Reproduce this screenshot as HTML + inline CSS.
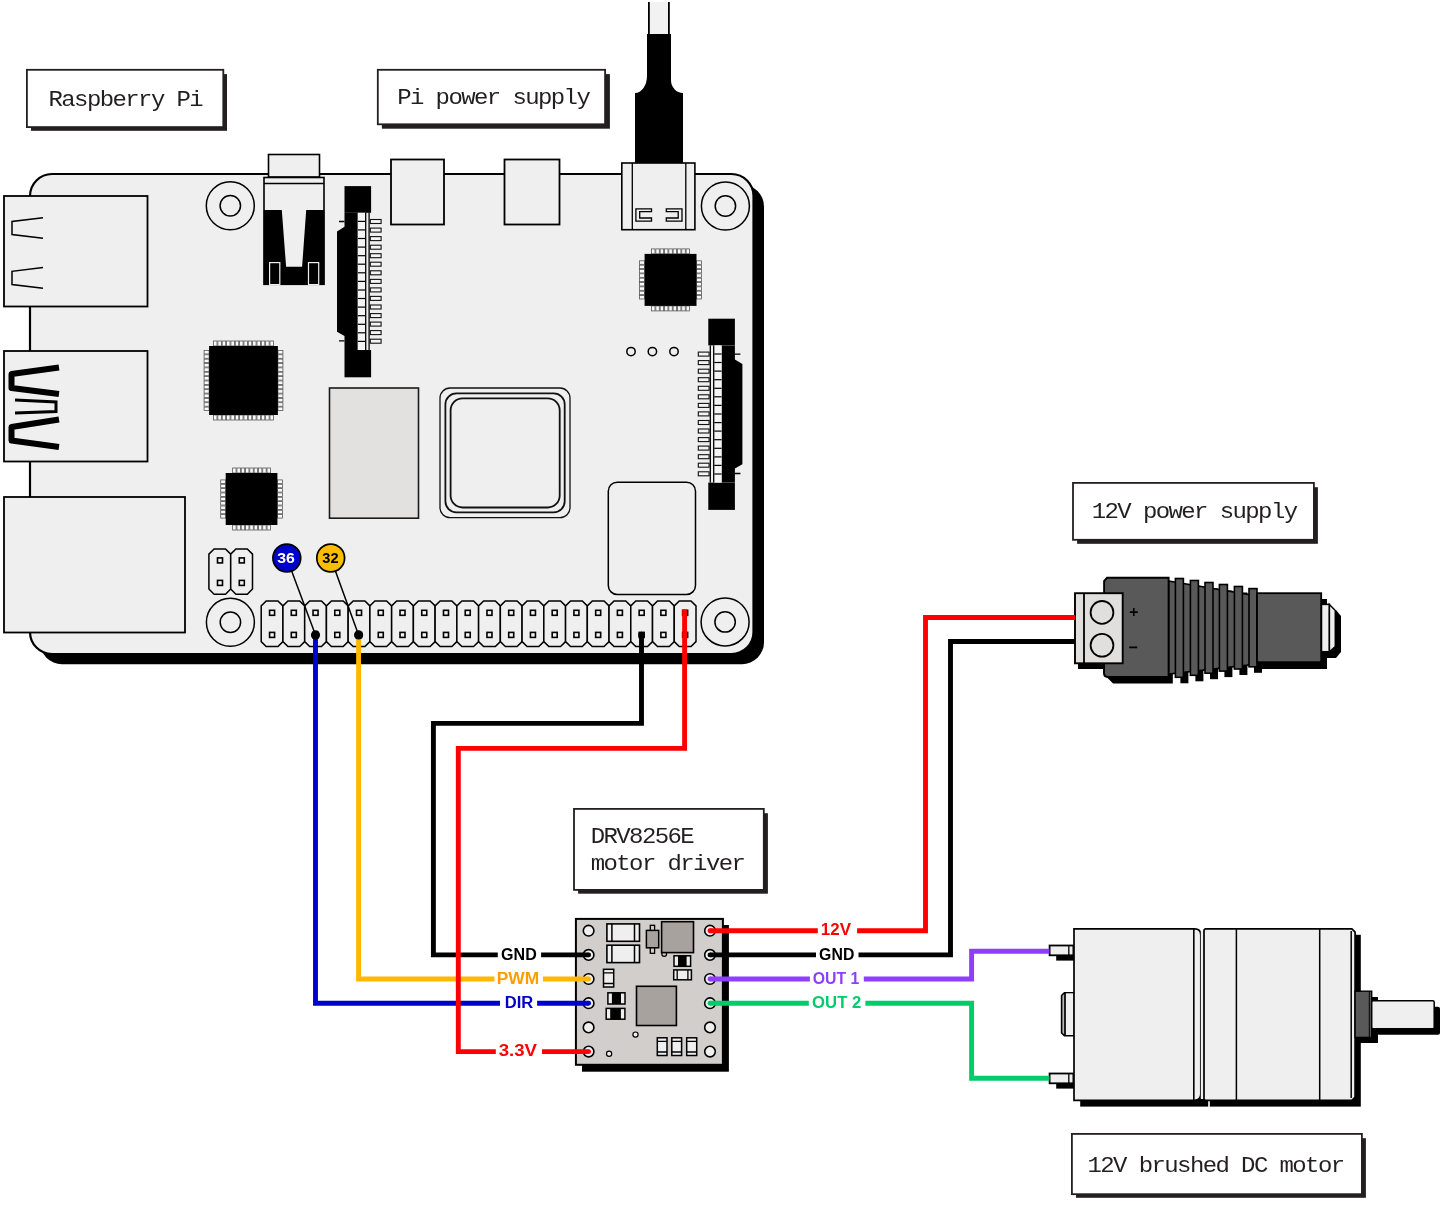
<!DOCTYPE html>
<html><head><meta charset="utf-8"><title>Raspberry Pi DRV8256E wiring</title>
<style>
html,body{margin:0;padding:0;background:#fff;width:1447px;height:1206px;overflow:hidden}
svg{display:block;will-change:transform}
.lbl{font-family:"Liberation Mono",monospace;font-size:24px;letter-spacing:-1.6px;fill:#231f20}
.wl{font-family:"Liberation Sans",sans-serif;font-weight:bold;font-size:16.213139401064353px}
.bd{font-family:"Liberation Sans",sans-serif;font-weight:bold;font-size:14px}
</style></head><body>
<svg width="1447" height="1206" viewBox="0 0 1447 1206">
<rect x="31" y="74.10000000000001" width="196.00" height="56.70" fill="#231f20"/>
<rect x="26.90" y="69.80" width="196.40" height="57.30" fill="#fff" stroke="#231f20" stroke-width="1.8"/>
<text transform="translate(48.5,105.7) scale(1,0.885)" class="lbl">Raspberry Pi</text>
<rect x="381.9" y="74.10000000000001" width="228.00" height="54.60" fill="#231f20"/>
<rect x="377.80" y="69.80" width="227.30" height="54.50" fill="#fff" stroke="#231f20" stroke-width="1.8"/>
<text transform="translate(397.2,103.7) scale(1,0.885)" class="lbl">Pi power supply</text>
<rect x="1077.1" y="487.2" width="240.80" height="56.60" fill="#231f20"/>
<rect x="1073.00" y="482.90" width="240.90" height="56.90" fill="#fff" stroke="#231f20" stroke-width="1.8"/>
<text transform="translate(1091.7,517.7) scale(1,0.885)" class="lbl">12V power supply</text>
<rect x="578.1" y="813.2" width="189.80" height="80.50" fill="#231f20"/>
<rect x="574.00" y="808.90" width="189.80" height="81.00" fill="#fff" stroke="#231f20" stroke-width="1.8"/>
<text transform="translate(590.7,842.8) scale(1,0.885)" class="lbl">DRV8256E</text>
<text transform="translate(590.7,869.7) scale(1,0.885)" class="lbl">motor driver</text>
<rect x="1076" y="1138.2" width="289.90" height="59.60" fill="#231f20"/>
<rect x="1071.90" y="1133.90" width="290.00" height="60.30" fill="#fff" stroke="#231f20" stroke-width="1.8"/>
<text transform="translate(1087.5,1172) scale(1,0.885)" class="lbl">12V brushed DC motor</text>
<rect x="648.5" y="2" width="20.5" height="34" fill="#f2f2f2"/>
<path d="M648.9,2 V36 M668.9,2 V36" stroke="#000" stroke-width="1.8"/>
<path d="M647,34 H671 V80 A12,13 0 0 0 683,93 V163 H635 V93 A12,17 0 0 0 647,76 Z" fill="#000"/>
<path d="M62,184.5 H742 A22,22 0 0 1 764,206.5 V642.2 A22,22 0 0 1 742,664.2 H62 A22,22 0 0 1 40,642.2 V206.5 A22,22 0 0 1 62,184.5 Z" fill="#000"/>
<path d="M52,174 H731.5 A22,22 0 0 1 753.5,196 V632 A22,22 0 0 1 731.5,654 H52 A22,22 0 0 1 30,632 V196 A22,22 0 0 1 52,174 Z" fill="#efefef" stroke="#000" stroke-width="2.2"/>
<rect x="4" y="196" width="143.5" height="110.5" fill="#efefef" stroke="#000" stroke-width="1.8"/>
<path d="M43,217.7 L12,221.5 V234.5 L43,238.3 M43,267.5 L12,271.3 V284.5 L43,288.3" fill="none" stroke="#000" stroke-width="1.5"/>
<rect x="4" y="351" width="143.5" height="110.5" fill="#efefef" stroke="#000" stroke-width="1.8"/>
<path d="M59,367.5 L11.5,374 V388 L59,394" fill="none" stroke="#000" stroke-width="6" stroke-linejoin="round"/>
<path d="M15,400 L56,402 V411.5 L15,413" fill="none" stroke="#000" stroke-width="3"/>
<path d="M59,419.5 L11.5,427 V440.5 L59,447" fill="none" stroke="#000" stroke-width="6" stroke-linejoin="round"/>
<rect x="4" y="497" width="181" height="135.5" fill="#efefef" stroke="#000" stroke-width="1.8"/>
<circle cx="230.3" cy="205.7" r="24" fill="none" stroke="#000" stroke-width="1.5"/>
<circle cx="230.3" cy="205.7" r="10.2" fill="none" stroke="#000" stroke-width="1.5"/>
<circle cx="725.4" cy="206" r="24" fill="none" stroke="#000" stroke-width="1.5"/>
<circle cx="725.4" cy="206" r="10.2" fill="none" stroke="#000" stroke-width="1.5"/>
<circle cx="230.4" cy="622.2" r="24" fill="none" stroke="#000" stroke-width="1.5"/>
<circle cx="230.4" cy="622.2" r="10.2" fill="none" stroke="#000" stroke-width="1.5"/>
<circle cx="725.1" cy="621.9" r="24" fill="none" stroke="#000" stroke-width="1.5"/>
<circle cx="725.1" cy="621.9" r="10.2" fill="none" stroke="#000" stroke-width="1.5"/>
<rect x="391" y="159.5" width="53" height="65" fill="#efefef" stroke="#000" stroke-width="1.8"/>
<rect x="504.5" y="159.5" width="55" height="65" fill="#efefef" stroke="#000" stroke-width="1.8"/>
<rect x="621.8" y="163" width="73.1" height="66.7" fill="#efefef" stroke="#000" stroke-width="1.6"/>
<path d="M632.3,163 V229.7 M685.8,163 V229.7" stroke="#000" stroke-width="1.3"/>
<path d="M651.5,208.8 H635.9 V221.2 H651.5 V218 H639.7 V211.6 H651.5 Z" fill="none" stroke="#000" stroke-width="1.3"/>
<path d="M666.3,208.8 H682 V221.2 H666.3 V218 H678.2 V211.6 H666.3 Z" fill="none" stroke="#000" stroke-width="1.3"/>
<rect x="268.5" y="154.5" width="51" height="22.5" fill="#efefef" stroke="#000" stroke-width="1.6"/>
<rect x="264" y="177.5" width="60" height="106.8" fill="#efefef" stroke="#000" stroke-width="1.6"/>
<path d="M264,183.5 H324" stroke="#000" stroke-width="1.5"/>
<path d="M263.8,210.1 H281.8 L286.1,266.8 H302.1 L306.2,210.1 H324.3 V284.4 H263.8 Z" fill="#000"/>
<rect x="269.6" y="262.6" width="10.2" height="22" fill="#000" stroke="#efefef" stroke-width="1.2"/>
<rect x="308.5" y="262.6" width="10.2" height="22" fill="#000" stroke="#efefef" stroke-width="1.2"/>
<rect x="344.5" y="186.1" width="26.6" height="26.7" fill="#000"/>
<rect x="344.5" y="350.0" width="26.6" height="27.3" fill="#000"/>
<polygon points="344.5,212.8 357.8,212.8 357.8,350.0 344.5,350.0 344.5,335.9 337.0,331.7 337.0,231.4 344.5,226.8" fill="#000"/>
<path d="M339.0,221.5 H344.5 M339.0,340.9 H344.5" stroke="#000" stroke-width="1.3"/>
<rect x="357.8" y="212.79999999999998" width="7.3" height="137.2" fill="#f4f4f4"/>
<path d="M357.8,221.4 H365.1" stroke="#000" stroke-width="1.2"/>
<path d="M357.8,229.9 H365.1" stroke="#000" stroke-width="1.2"/>
<path d="M357.8,238.5 H365.1" stroke="#000" stroke-width="1.2"/>
<path d="M357.8,247.1 H365.1" stroke="#000" stroke-width="1.2"/>
<path d="M357.8,255.7 H365.1" stroke="#000" stroke-width="1.2"/>
<path d="M357.8,264.2 H365.1" stroke="#000" stroke-width="1.2"/>
<path d="M357.8,272.8 H365.1" stroke="#000" stroke-width="1.2"/>
<path d="M357.8,281.4 H365.1" stroke="#000" stroke-width="1.2"/>
<path d="M357.8,290.0 H365.1" stroke="#000" stroke-width="1.2"/>
<path d="M357.8,298.5 H365.1" stroke="#000" stroke-width="1.2"/>
<path d="M357.8,307.1 H365.1" stroke="#000" stroke-width="1.2"/>
<path d="M357.8,315.7 H365.1" stroke="#000" stroke-width="1.2"/>
<path d="M357.8,324.3 H365.1" stroke="#000" stroke-width="1.2"/>
<path d="M357.8,332.8 H365.1" stroke="#000" stroke-width="1.2"/>
<path d="M357.8,341.4 H365.1" stroke="#000" stroke-width="1.2"/>
<path d="M365.7,212.79999999999998 V350.0 M369.1,212.79999999999998 V350.0" stroke="#000" stroke-width="1.3"/>
<rect x="370.3" y="219.5" width="10.8" height="4" fill="#f4f4f4" stroke="#111" stroke-width="1.1"/>
<rect x="370.3" y="228.1" width="10.8" height="4" fill="#f4f4f4" stroke="#111" stroke-width="1.1"/>
<rect x="370.3" y="236.6" width="10.8" height="4" fill="#f4f4f4" stroke="#111" stroke-width="1.1"/>
<rect x="370.3" y="245.2" width="10.8" height="4" fill="#f4f4f4" stroke="#111" stroke-width="1.1"/>
<rect x="370.3" y="253.7" width="10.8" height="4" fill="#f4f4f4" stroke="#111" stroke-width="1.1"/>
<rect x="370.3" y="262.2" width="10.8" height="4" fill="#f4f4f4" stroke="#111" stroke-width="1.1"/>
<rect x="370.3" y="270.8" width="10.8" height="4" fill="#f4f4f4" stroke="#111" stroke-width="1.1"/>
<rect x="370.3" y="279.4" width="10.8" height="4" fill="#f4f4f4" stroke="#111" stroke-width="1.1"/>
<rect x="370.3" y="287.9" width="10.8" height="4" fill="#f4f4f4" stroke="#111" stroke-width="1.1"/>
<rect x="370.3" y="296.4" width="10.8" height="4" fill="#f4f4f4" stroke="#111" stroke-width="1.1"/>
<rect x="370.3" y="305.0" width="10.8" height="4" fill="#f4f4f4" stroke="#111" stroke-width="1.1"/>
<rect x="370.3" y="313.6" width="10.8" height="4" fill="#f4f4f4" stroke="#111" stroke-width="1.1"/>
<rect x="370.3" y="322.1" width="10.8" height="4" fill="#f4f4f4" stroke="#111" stroke-width="1.1"/>
<rect x="370.3" y="330.6" width="10.8" height="4" fill="#f4f4f4" stroke="#111" stroke-width="1.1"/>
<rect x="370.3" y="339.2" width="10.8" height="4" fill="#f4f4f4" stroke="#111" stroke-width="1.1"/>
<rect x="708.3000000000001" y="318.7" width="26.6" height="26.7" fill="#000"/>
<rect x="708.3000000000001" y="482.6" width="26.6" height="27.3" fill="#000"/>
<polygon points="734.9,345.4 721.6,345.4 721.6,482.6 734.9,482.6 734.9,468.5 742.4,464.3 742.4,364.0 734.9,359.4" fill="#000"/>
<path d="M740.4,354.09999999999997 H734.9 M740.4,473.5 H734.9" stroke="#000" stroke-width="1.3"/>
<rect x="714.3000000000001" y="345.4" width="7.3" height="137.2" fill="#f4f4f4"/>
<path d="M721.6,354.0 H714.3000000000001" stroke="#000" stroke-width="1.2"/>
<path d="M721.6,362.5 H714.3000000000001" stroke="#000" stroke-width="1.2"/>
<path d="M721.6,371.1 H714.3000000000001" stroke="#000" stroke-width="1.2"/>
<path d="M721.6,379.7 H714.3000000000001" stroke="#000" stroke-width="1.2"/>
<path d="M721.6,388.3 H714.3000000000001" stroke="#000" stroke-width="1.2"/>
<path d="M721.6,396.8 H714.3000000000001" stroke="#000" stroke-width="1.2"/>
<path d="M721.6,405.4 H714.3000000000001" stroke="#000" stroke-width="1.2"/>
<path d="M721.6,414.0 H714.3000000000001" stroke="#000" stroke-width="1.2"/>
<path d="M721.6,422.6 H714.3000000000001" stroke="#000" stroke-width="1.2"/>
<path d="M721.6,431.1 H714.3000000000001" stroke="#000" stroke-width="1.2"/>
<path d="M721.6,439.7 H714.3000000000001" stroke="#000" stroke-width="1.2"/>
<path d="M721.6,448.3 H714.3000000000001" stroke="#000" stroke-width="1.2"/>
<path d="M721.6,456.9 H714.3000000000001" stroke="#000" stroke-width="1.2"/>
<path d="M721.6,465.4 H714.3000000000001" stroke="#000" stroke-width="1.2"/>
<path d="M721.6,474.0 H714.3000000000001" stroke="#000" stroke-width="1.2"/>
<path d="M713.7,345.4 V482.6 M710.3000000000001,345.4 V482.6" stroke="#000" stroke-width="1.3"/>
<rect x="698.3" y="352.1" width="10.8" height="4" fill="#f4f4f4" stroke="#111" stroke-width="1.1"/>
<rect x="698.3" y="360.6" width="10.8" height="4" fill="#f4f4f4" stroke="#111" stroke-width="1.1"/>
<rect x="698.3" y="369.2" width="10.8" height="4" fill="#f4f4f4" stroke="#111" stroke-width="1.1"/>
<rect x="698.3" y="377.7" width="10.8" height="4" fill="#f4f4f4" stroke="#111" stroke-width="1.1"/>
<rect x="698.3" y="386.3" width="10.8" height="4" fill="#f4f4f4" stroke="#111" stroke-width="1.1"/>
<rect x="698.3" y="394.8" width="10.8" height="4" fill="#f4f4f4" stroke="#111" stroke-width="1.1"/>
<rect x="698.3" y="403.4" width="10.8" height="4" fill="#f4f4f4" stroke="#111" stroke-width="1.1"/>
<rect x="698.3" y="411.9" width="10.8" height="4" fill="#f4f4f4" stroke="#111" stroke-width="1.1"/>
<rect x="698.3" y="420.5" width="10.8" height="4" fill="#f4f4f4" stroke="#111" stroke-width="1.1"/>
<rect x="698.3" y="429.0" width="10.8" height="4" fill="#f4f4f4" stroke="#111" stroke-width="1.1"/>
<rect x="698.3" y="437.6" width="10.8" height="4" fill="#f4f4f4" stroke="#111" stroke-width="1.1"/>
<rect x="698.3" y="446.1" width="10.8" height="4" fill="#f4f4f4" stroke="#111" stroke-width="1.1"/>
<rect x="698.3" y="454.7" width="10.8" height="4" fill="#f4f4f4" stroke="#111" stroke-width="1.1"/>
<rect x="698.3" y="463.2" width="10.8" height="4" fill="#f4f4f4" stroke="#111" stroke-width="1.1"/>
<rect x="698.3" y="471.8" width="10.8" height="4" fill="#f4f4f4" stroke="#111" stroke-width="1.1"/>
<rect x="329.5" y="388" width="89" height="130.2" fill="#e2e1df" stroke="#1a1a1a" stroke-width="1.6"/>
<rect x="440" y="388" width="130" height="129.7" rx="10" fill="none" stroke="#111" stroke-width="1.3"/>
<rect x="445.4" y="393.4" width="119.3" height="118.9" rx="11" fill="none" stroke="#111" stroke-width="1.8"/>
<rect x="450.6" y="398.4" width="109.1" height="109.1" rx="12" fill="none" stroke="#111" stroke-width="1.8"/>
<rect x="608.3" y="482.2" width="87.2" height="112.3" rx="9" fill="none" stroke="#000" stroke-width="1.5"/>
<circle cx="631" cy="351.6" r="4.2" fill="none" stroke="#000" stroke-width="1.5"/>
<circle cx="652.4" cy="351.6" r="4.2" fill="none" stroke="#000" stroke-width="1.5"/>
<circle cx="674" cy="351.6" r="4.2" fill="none" stroke="#000" stroke-width="1.5"/>
<rect x="213.53" y="341" width="3.47" height="5" fill="#fafafa" stroke="#555" stroke-width="0.8"/>
<rect x="213.53" y="415" width="3.47" height="5" fill="#fafafa" stroke="#555" stroke-width="0.8"/>
<rect x="217.88" y="341" width="3.47" height="5" fill="#fafafa" stroke="#555" stroke-width="0.8"/>
<rect x="217.88" y="415" width="3.47" height="5" fill="#fafafa" stroke="#555" stroke-width="0.8"/>
<rect x="222.22" y="341" width="3.47" height="5" fill="#fafafa" stroke="#555" stroke-width="0.8"/>
<rect x="222.22" y="415" width="3.47" height="5" fill="#fafafa" stroke="#555" stroke-width="0.8"/>
<rect x="226.56" y="341" width="3.47" height="5" fill="#fafafa" stroke="#555" stroke-width="0.8"/>
<rect x="226.56" y="415" width="3.47" height="5" fill="#fafafa" stroke="#555" stroke-width="0.8"/>
<rect x="230.91" y="341" width="3.47" height="5" fill="#fafafa" stroke="#555" stroke-width="0.8"/>
<rect x="230.91" y="415" width="3.47" height="5" fill="#fafafa" stroke="#555" stroke-width="0.8"/>
<rect x="235.25" y="341" width="3.47" height="5" fill="#fafafa" stroke="#555" stroke-width="0.8"/>
<rect x="235.25" y="415" width="3.47" height="5" fill="#fafafa" stroke="#555" stroke-width="0.8"/>
<rect x="239.59" y="341" width="3.47" height="5" fill="#fafafa" stroke="#555" stroke-width="0.8"/>
<rect x="239.59" y="415" width="3.47" height="5" fill="#fafafa" stroke="#555" stroke-width="0.8"/>
<rect x="243.93" y="341" width="3.47" height="5" fill="#fafafa" stroke="#555" stroke-width="0.8"/>
<rect x="243.93" y="415" width="3.47" height="5" fill="#fafafa" stroke="#555" stroke-width="0.8"/>
<rect x="248.28" y="341" width="3.47" height="5" fill="#fafafa" stroke="#555" stroke-width="0.8"/>
<rect x="248.28" y="415" width="3.47" height="5" fill="#fafafa" stroke="#555" stroke-width="0.8"/>
<rect x="252.62" y="341" width="3.47" height="5" fill="#fafafa" stroke="#555" stroke-width="0.8"/>
<rect x="252.62" y="415" width="3.47" height="5" fill="#fafafa" stroke="#555" stroke-width="0.8"/>
<rect x="256.96" y="341" width="3.47" height="5" fill="#fafafa" stroke="#555" stroke-width="0.8"/>
<rect x="256.96" y="415" width="3.47" height="5" fill="#fafafa" stroke="#555" stroke-width="0.8"/>
<rect x="261.31" y="341" width="3.47" height="5" fill="#fafafa" stroke="#555" stroke-width="0.8"/>
<rect x="261.31" y="415" width="3.47" height="5" fill="#fafafa" stroke="#555" stroke-width="0.8"/>
<rect x="265.65" y="341" width="3.47" height="5" fill="#fafafa" stroke="#555" stroke-width="0.8"/>
<rect x="265.65" y="415" width="3.47" height="5" fill="#fafafa" stroke="#555" stroke-width="0.8"/>
<rect x="269.99" y="341" width="3.47" height="5" fill="#fafafa" stroke="#555" stroke-width="0.8"/>
<rect x="269.99" y="415" width="3.47" height="5" fill="#fafafa" stroke="#555" stroke-width="0.8"/>
<rect x="204.1" y="350.44" width="5" height="3.49" fill="#fafafa" stroke="#555" stroke-width="0.8"/>
<rect x="277.9" y="350.44" width="5" height="3.49" fill="#fafafa" stroke="#555" stroke-width="0.8"/>
<rect x="204.1" y="354.79" width="5" height="3.49" fill="#fafafa" stroke="#555" stroke-width="0.8"/>
<rect x="277.9" y="354.79" width="5" height="3.49" fill="#fafafa" stroke="#555" stroke-width="0.8"/>
<rect x="204.1" y="359.15" width="5" height="3.49" fill="#fafafa" stroke="#555" stroke-width="0.8"/>
<rect x="277.9" y="359.15" width="5" height="3.49" fill="#fafafa" stroke="#555" stroke-width="0.8"/>
<rect x="204.1" y="363.51" width="5" height="3.49" fill="#fafafa" stroke="#555" stroke-width="0.8"/>
<rect x="277.9" y="363.51" width="5" height="3.49" fill="#fafafa" stroke="#555" stroke-width="0.8"/>
<rect x="204.1" y="367.86" width="5" height="3.49" fill="#fafafa" stroke="#555" stroke-width="0.8"/>
<rect x="277.9" y="367.86" width="5" height="3.49" fill="#fafafa" stroke="#555" stroke-width="0.8"/>
<rect x="204.1" y="372.22" width="5" height="3.49" fill="#fafafa" stroke="#555" stroke-width="0.8"/>
<rect x="277.9" y="372.22" width="5" height="3.49" fill="#fafafa" stroke="#555" stroke-width="0.8"/>
<rect x="204.1" y="376.58" width="5" height="3.49" fill="#fafafa" stroke="#555" stroke-width="0.8"/>
<rect x="277.9" y="376.58" width="5" height="3.49" fill="#fafafa" stroke="#555" stroke-width="0.8"/>
<rect x="204.1" y="380.94" width="5" height="3.49" fill="#fafafa" stroke="#555" stroke-width="0.8"/>
<rect x="277.9" y="380.94" width="5" height="3.49" fill="#fafafa" stroke="#555" stroke-width="0.8"/>
<rect x="204.1" y="385.29" width="5" height="3.49" fill="#fafafa" stroke="#555" stroke-width="0.8"/>
<rect x="277.9" y="385.29" width="5" height="3.49" fill="#fafafa" stroke="#555" stroke-width="0.8"/>
<rect x="204.1" y="389.65" width="5" height="3.49" fill="#fafafa" stroke="#555" stroke-width="0.8"/>
<rect x="277.9" y="389.65" width="5" height="3.49" fill="#fafafa" stroke="#555" stroke-width="0.8"/>
<rect x="204.1" y="394.01" width="5" height="3.49" fill="#fafafa" stroke="#555" stroke-width="0.8"/>
<rect x="277.9" y="394.01" width="5" height="3.49" fill="#fafafa" stroke="#555" stroke-width="0.8"/>
<rect x="204.1" y="398.36" width="5" height="3.49" fill="#fafafa" stroke="#555" stroke-width="0.8"/>
<rect x="277.9" y="398.36" width="5" height="3.49" fill="#fafafa" stroke="#555" stroke-width="0.8"/>
<rect x="204.1" y="402.72" width="5" height="3.49" fill="#fafafa" stroke="#555" stroke-width="0.8"/>
<rect x="277.9" y="402.72" width="5" height="3.49" fill="#fafafa" stroke="#555" stroke-width="0.8"/>
<rect x="204.1" y="407.08" width="5" height="3.49" fill="#fafafa" stroke="#555" stroke-width="0.8"/>
<rect x="277.9" y="407.08" width="5" height="3.49" fill="#fafafa" stroke="#555" stroke-width="0.8"/>
<rect x="209.1" y="346" width="68.79999999999998" height="69" fill="#000"/>
<rect x="232.63" y="468" width="3.44" height="5" fill="#fafafa" stroke="#555" stroke-width="0.8"/>
<rect x="232.63" y="525" width="3.44" height="5" fill="#fafafa" stroke="#555" stroke-width="0.8"/>
<rect x="236.93" y="468" width="3.44" height="5" fill="#fafafa" stroke="#555" stroke-width="0.8"/>
<rect x="236.93" y="525" width="3.44" height="5" fill="#fafafa" stroke="#555" stroke-width="0.8"/>
<rect x="241.23" y="468" width="3.44" height="5" fill="#fafafa" stroke="#555" stroke-width="0.8"/>
<rect x="241.23" y="525" width="3.44" height="5" fill="#fafafa" stroke="#555" stroke-width="0.8"/>
<rect x="245.53" y="468" width="3.44" height="5" fill="#fafafa" stroke="#555" stroke-width="0.8"/>
<rect x="245.53" y="525" width="3.44" height="5" fill="#fafafa" stroke="#555" stroke-width="0.8"/>
<rect x="249.83" y="468" width="3.44" height="5" fill="#fafafa" stroke="#555" stroke-width="0.8"/>
<rect x="249.83" y="525" width="3.44" height="5" fill="#fafafa" stroke="#555" stroke-width="0.8"/>
<rect x="254.13" y="468" width="3.44" height="5" fill="#fafafa" stroke="#555" stroke-width="0.8"/>
<rect x="254.13" y="525" width="3.44" height="5" fill="#fafafa" stroke="#555" stroke-width="0.8"/>
<rect x="258.43" y="468" width="3.44" height="5" fill="#fafafa" stroke="#555" stroke-width="0.8"/>
<rect x="258.43" y="525" width="3.44" height="5" fill="#fafafa" stroke="#555" stroke-width="0.8"/>
<rect x="262.73" y="468" width="3.44" height="5" fill="#fafafa" stroke="#555" stroke-width="0.8"/>
<rect x="262.73" y="525" width="3.44" height="5" fill="#fafafa" stroke="#555" stroke-width="0.8"/>
<rect x="267.03" y="468" width="3.44" height="5" fill="#fafafa" stroke="#555" stroke-width="0.8"/>
<rect x="267.03" y="525" width="3.44" height="5" fill="#fafafa" stroke="#555" stroke-width="0.8"/>
<rect x="220.7" y="479.93" width="5" height="3.47" fill="#fafafa" stroke="#555" stroke-width="0.8"/>
<rect x="277.4" y="479.93" width="5" height="3.47" fill="#fafafa" stroke="#555" stroke-width="0.8"/>
<rect x="220.7" y="484.27" width="5" height="3.47" fill="#fafafa" stroke="#555" stroke-width="0.8"/>
<rect x="277.4" y="484.27" width="5" height="3.47" fill="#fafafa" stroke="#555" stroke-width="0.8"/>
<rect x="220.7" y="488.60" width="5" height="3.47" fill="#fafafa" stroke="#555" stroke-width="0.8"/>
<rect x="277.4" y="488.60" width="5" height="3.47" fill="#fafafa" stroke="#555" stroke-width="0.8"/>
<rect x="220.7" y="492.93" width="5" height="3.47" fill="#fafafa" stroke="#555" stroke-width="0.8"/>
<rect x="277.4" y="492.93" width="5" height="3.47" fill="#fafafa" stroke="#555" stroke-width="0.8"/>
<rect x="220.7" y="497.27" width="5" height="3.47" fill="#fafafa" stroke="#555" stroke-width="0.8"/>
<rect x="277.4" y="497.27" width="5" height="3.47" fill="#fafafa" stroke="#555" stroke-width="0.8"/>
<rect x="220.7" y="501.60" width="5" height="3.47" fill="#fafafa" stroke="#555" stroke-width="0.8"/>
<rect x="277.4" y="501.60" width="5" height="3.47" fill="#fafafa" stroke="#555" stroke-width="0.8"/>
<rect x="220.7" y="505.93" width="5" height="3.47" fill="#fafafa" stroke="#555" stroke-width="0.8"/>
<rect x="277.4" y="505.93" width="5" height="3.47" fill="#fafafa" stroke="#555" stroke-width="0.8"/>
<rect x="220.7" y="510.27" width="5" height="3.47" fill="#fafafa" stroke="#555" stroke-width="0.8"/>
<rect x="277.4" y="510.27" width="5" height="3.47" fill="#fafafa" stroke="#555" stroke-width="0.8"/>
<rect x="220.7" y="514.60" width="5" height="3.47" fill="#fafafa" stroke="#555" stroke-width="0.8"/>
<rect x="277.4" y="514.60" width="5" height="3.47" fill="#fafafa" stroke="#555" stroke-width="0.8"/>
<rect x="225.7" y="473" width="51.69999999999999" height="52" fill="#000"/>
<rect x="651.53" y="248.9" width="3.46" height="5" fill="#fafafa" stroke="#555" stroke-width="0.8"/>
<rect x="651.53" y="305.9" width="3.46" height="5" fill="#fafafa" stroke="#555" stroke-width="0.8"/>
<rect x="655.85" y="248.9" width="3.46" height="5" fill="#fafafa" stroke="#555" stroke-width="0.8"/>
<rect x="655.85" y="305.9" width="3.46" height="5" fill="#fafafa" stroke="#555" stroke-width="0.8"/>
<rect x="660.18" y="248.9" width="3.46" height="5" fill="#fafafa" stroke="#555" stroke-width="0.8"/>
<rect x="660.18" y="305.9" width="3.46" height="5" fill="#fafafa" stroke="#555" stroke-width="0.8"/>
<rect x="664.50" y="248.9" width="3.46" height="5" fill="#fafafa" stroke="#555" stroke-width="0.8"/>
<rect x="664.50" y="305.9" width="3.46" height="5" fill="#fafafa" stroke="#555" stroke-width="0.8"/>
<rect x="668.82" y="248.9" width="3.46" height="5" fill="#fafafa" stroke="#555" stroke-width="0.8"/>
<rect x="668.82" y="305.9" width="3.46" height="5" fill="#fafafa" stroke="#555" stroke-width="0.8"/>
<rect x="673.14" y="248.9" width="3.46" height="5" fill="#fafafa" stroke="#555" stroke-width="0.8"/>
<rect x="673.14" y="305.9" width="3.46" height="5" fill="#fafafa" stroke="#555" stroke-width="0.8"/>
<rect x="677.47" y="248.9" width="3.46" height="5" fill="#fafafa" stroke="#555" stroke-width="0.8"/>
<rect x="677.47" y="305.9" width="3.46" height="5" fill="#fafafa" stroke="#555" stroke-width="0.8"/>
<rect x="681.79" y="248.9" width="3.46" height="5" fill="#fafafa" stroke="#555" stroke-width="0.8"/>
<rect x="681.79" y="305.9" width="3.46" height="5" fill="#fafafa" stroke="#555" stroke-width="0.8"/>
<rect x="686.11" y="248.9" width="3.46" height="5" fill="#fafafa" stroke="#555" stroke-width="0.8"/>
<rect x="686.11" y="305.9" width="3.46" height="5" fill="#fafafa" stroke="#555" stroke-width="0.8"/>
<rect x="639.6" y="260.83" width="5" height="3.47" fill="#fafafa" stroke="#555" stroke-width="0.8"/>
<rect x="696.5" y="260.83" width="5" height="3.47" fill="#fafafa" stroke="#555" stroke-width="0.8"/>
<rect x="639.6" y="265.17" width="5" height="3.47" fill="#fafafa" stroke="#555" stroke-width="0.8"/>
<rect x="696.5" y="265.17" width="5" height="3.47" fill="#fafafa" stroke="#555" stroke-width="0.8"/>
<rect x="639.6" y="269.50" width="5" height="3.47" fill="#fafafa" stroke="#555" stroke-width="0.8"/>
<rect x="696.5" y="269.50" width="5" height="3.47" fill="#fafafa" stroke="#555" stroke-width="0.8"/>
<rect x="639.6" y="273.83" width="5" height="3.47" fill="#fafafa" stroke="#555" stroke-width="0.8"/>
<rect x="696.5" y="273.83" width="5" height="3.47" fill="#fafafa" stroke="#555" stroke-width="0.8"/>
<rect x="639.6" y="278.17" width="5" height="3.47" fill="#fafafa" stroke="#555" stroke-width="0.8"/>
<rect x="696.5" y="278.17" width="5" height="3.47" fill="#fafafa" stroke="#555" stroke-width="0.8"/>
<rect x="639.6" y="282.50" width="5" height="3.47" fill="#fafafa" stroke="#555" stroke-width="0.8"/>
<rect x="696.5" y="282.50" width="5" height="3.47" fill="#fafafa" stroke="#555" stroke-width="0.8"/>
<rect x="639.6" y="286.83" width="5" height="3.47" fill="#fafafa" stroke="#555" stroke-width="0.8"/>
<rect x="696.5" y="286.83" width="5" height="3.47" fill="#fafafa" stroke="#555" stroke-width="0.8"/>
<rect x="639.6" y="291.17" width="5" height="3.47" fill="#fafafa" stroke="#555" stroke-width="0.8"/>
<rect x="696.5" y="291.17" width="5" height="3.47" fill="#fafafa" stroke="#555" stroke-width="0.8"/>
<rect x="639.6" y="295.50" width="5" height="3.47" fill="#fafafa" stroke="#555" stroke-width="0.8"/>
<rect x="696.5" y="295.50" width="5" height="3.47" fill="#fafafa" stroke="#555" stroke-width="0.8"/>
<rect x="644.6" y="253.9" width="51.89999999999998" height="51.99999999999997" fill="#000"/>
<path d="M266.20,600.9 H277.94 L282.94,605.9 V641.6 L277.94,646.6 H266.20 L261.20,641.6 V605.9 Z" fill="#efefef" stroke="#000" stroke-width="1.5"/>
<rect x="269.57" y="610.30" width="5" height="5" fill="#f4f4f4" stroke="#000" stroke-width="1.6"/>
<rect x="269.57" y="632.40" width="5" height="5" fill="#f4f4f4" stroke="#000" stroke-width="1.6"/>
<path d="M287.94,600.9 H299.68 L304.68,605.9 V641.6 L299.68,646.6 H287.94 L282.94,641.6 V605.9 Z" fill="#efefef" stroke="#000" stroke-width="1.5"/>
<rect x="291.31" y="610.30" width="5" height="5" fill="#f4f4f4" stroke="#000" stroke-width="1.6"/>
<rect x="291.31" y="632.40" width="5" height="5" fill="#f4f4f4" stroke="#000" stroke-width="1.6"/>
<path d="M309.68,600.9 H321.42 L326.42,605.9 V641.6 L321.42,646.6 H309.68 L304.68,641.6 V605.9 Z" fill="#efefef" stroke="#000" stroke-width="1.5"/>
<rect x="313.05" y="610.30" width="5" height="5" fill="#f4f4f4" stroke="#000" stroke-width="1.6"/>
<rect x="313.05" y="632.40" width="5" height="5" fill="#f4f4f4" stroke="#000" stroke-width="1.6"/>
<path d="M331.42,600.9 H343.16 L348.16,605.9 V641.6 L343.16,646.6 H331.42 L326.42,641.6 V605.9 Z" fill="#efefef" stroke="#000" stroke-width="1.5"/>
<rect x="334.79" y="610.30" width="5" height="5" fill="#f4f4f4" stroke="#000" stroke-width="1.6"/>
<rect x="334.79" y="632.40" width="5" height="5" fill="#f4f4f4" stroke="#000" stroke-width="1.6"/>
<path d="M353.16,600.9 H364.90 L369.90,605.9 V641.6 L364.90,646.6 H353.16 L348.16,641.6 V605.9 Z" fill="#efefef" stroke="#000" stroke-width="1.5"/>
<rect x="356.53" y="610.30" width="5" height="5" fill="#f4f4f4" stroke="#000" stroke-width="1.6"/>
<rect x="356.53" y="632.40" width="5" height="5" fill="#f4f4f4" stroke="#000" stroke-width="1.6"/>
<path d="M374.90,600.9 H386.64 L391.64,605.9 V641.6 L386.64,646.6 H374.90 L369.90,641.6 V605.9 Z" fill="#efefef" stroke="#000" stroke-width="1.5"/>
<rect x="378.27" y="610.30" width="5" height="5" fill="#f4f4f4" stroke="#000" stroke-width="1.6"/>
<rect x="378.27" y="632.40" width="5" height="5" fill="#f4f4f4" stroke="#000" stroke-width="1.6"/>
<path d="M396.64,600.9 H408.38 L413.38,605.9 V641.6 L408.38,646.6 H396.64 L391.64,641.6 V605.9 Z" fill="#efefef" stroke="#000" stroke-width="1.5"/>
<rect x="400.01" y="610.30" width="5" height="5" fill="#f4f4f4" stroke="#000" stroke-width="1.6"/>
<rect x="400.01" y="632.40" width="5" height="5" fill="#f4f4f4" stroke="#000" stroke-width="1.6"/>
<path d="M418.38,600.9 H430.12 L435.12,605.9 V641.6 L430.12,646.6 H418.38 L413.38,641.6 V605.9 Z" fill="#efefef" stroke="#000" stroke-width="1.5"/>
<rect x="421.75" y="610.30" width="5" height="5" fill="#f4f4f4" stroke="#000" stroke-width="1.6"/>
<rect x="421.75" y="632.40" width="5" height="5" fill="#f4f4f4" stroke="#000" stroke-width="1.6"/>
<path d="M440.12,600.9 H451.86 L456.86,605.9 V641.6 L451.86,646.6 H440.12 L435.12,641.6 V605.9 Z" fill="#efefef" stroke="#000" stroke-width="1.5"/>
<rect x="443.49" y="610.30" width="5" height="5" fill="#f4f4f4" stroke="#000" stroke-width="1.6"/>
<rect x="443.49" y="632.40" width="5" height="5" fill="#f4f4f4" stroke="#000" stroke-width="1.6"/>
<path d="M461.86,600.9 H473.60 L478.60,605.9 V641.6 L473.60,646.6 H461.86 L456.86,641.6 V605.9 Z" fill="#efefef" stroke="#000" stroke-width="1.5"/>
<rect x="465.23" y="610.30" width="5" height="5" fill="#f4f4f4" stroke="#000" stroke-width="1.6"/>
<rect x="465.23" y="632.40" width="5" height="5" fill="#f4f4f4" stroke="#000" stroke-width="1.6"/>
<path d="M483.60,600.9 H495.34 L500.34,605.9 V641.6 L495.34,646.6 H483.60 L478.60,641.6 V605.9 Z" fill="#efefef" stroke="#000" stroke-width="1.5"/>
<rect x="486.97" y="610.30" width="5" height="5" fill="#f4f4f4" stroke="#000" stroke-width="1.6"/>
<rect x="486.97" y="632.40" width="5" height="5" fill="#f4f4f4" stroke="#000" stroke-width="1.6"/>
<path d="M505.34,600.9 H517.08 L522.08,605.9 V641.6 L517.08,646.6 H505.34 L500.34,641.6 V605.9 Z" fill="#efefef" stroke="#000" stroke-width="1.5"/>
<rect x="508.71" y="610.30" width="5" height="5" fill="#f4f4f4" stroke="#000" stroke-width="1.6"/>
<rect x="508.71" y="632.40" width="5" height="5" fill="#f4f4f4" stroke="#000" stroke-width="1.6"/>
<path d="M527.08,600.9 H538.82 L543.82,605.9 V641.6 L538.82,646.6 H527.08 L522.08,641.6 V605.9 Z" fill="#efefef" stroke="#000" stroke-width="1.5"/>
<rect x="530.45" y="610.30" width="5" height="5" fill="#f4f4f4" stroke="#000" stroke-width="1.6"/>
<rect x="530.45" y="632.40" width="5" height="5" fill="#f4f4f4" stroke="#000" stroke-width="1.6"/>
<path d="M548.82,600.9 H560.56 L565.56,605.9 V641.6 L560.56,646.6 H548.82 L543.82,641.6 V605.9 Z" fill="#efefef" stroke="#000" stroke-width="1.5"/>
<rect x="552.19" y="610.30" width="5" height="5" fill="#f4f4f4" stroke="#000" stroke-width="1.6"/>
<rect x="552.19" y="632.40" width="5" height="5" fill="#f4f4f4" stroke="#000" stroke-width="1.6"/>
<path d="M570.56,600.9 H582.30 L587.30,605.9 V641.6 L582.30,646.6 H570.56 L565.56,641.6 V605.9 Z" fill="#efefef" stroke="#000" stroke-width="1.5"/>
<rect x="573.93" y="610.30" width="5" height="5" fill="#f4f4f4" stroke="#000" stroke-width="1.6"/>
<rect x="573.93" y="632.40" width="5" height="5" fill="#f4f4f4" stroke="#000" stroke-width="1.6"/>
<path d="M592.30,600.9 H604.04 L609.04,605.9 V641.6 L604.04,646.6 H592.30 L587.30,641.6 V605.9 Z" fill="#efefef" stroke="#000" stroke-width="1.5"/>
<rect x="595.67" y="610.30" width="5" height="5" fill="#f4f4f4" stroke="#000" stroke-width="1.6"/>
<rect x="595.67" y="632.40" width="5" height="5" fill="#f4f4f4" stroke="#000" stroke-width="1.6"/>
<path d="M614.04,600.9 H625.78 L630.78,605.9 V641.6 L625.78,646.6 H614.04 L609.04,641.6 V605.9 Z" fill="#efefef" stroke="#000" stroke-width="1.5"/>
<rect x="617.41" y="610.30" width="5" height="5" fill="#f4f4f4" stroke="#000" stroke-width="1.6"/>
<rect x="617.41" y="632.40" width="5" height="5" fill="#f4f4f4" stroke="#000" stroke-width="1.6"/>
<path d="M635.78,600.9 H647.52 L652.52,605.9 V641.6 L647.52,646.6 H635.78 L630.78,641.6 V605.9 Z" fill="#efefef" stroke="#000" stroke-width="1.5"/>
<rect x="639.15" y="610.30" width="5" height="5" fill="#f4f4f4" stroke="#000" stroke-width="1.6"/>
<rect x="639.15" y="632.40" width="5" height="5" fill="#f4f4f4" stroke="#000" stroke-width="1.6"/>
<path d="M657.52,600.9 H669.26 L674.26,605.9 V641.6 L669.26,646.6 H657.52 L652.52,641.6 V605.9 Z" fill="#efefef" stroke="#000" stroke-width="1.5"/>
<rect x="660.89" y="610.30" width="5" height="5" fill="#f4f4f4" stroke="#000" stroke-width="1.6"/>
<rect x="660.89" y="632.40" width="5" height="5" fill="#f4f4f4" stroke="#000" stroke-width="1.6"/>
<path d="M679.26,600.9 H691.00 L696.00,605.9 V641.6 L691.00,646.6 H679.26 L674.26,641.6 V605.9 Z" fill="#efefef" stroke="#000" stroke-width="1.5"/>
<rect x="682.63" y="610.30" width="5" height="5" fill="#f4f4f4" stroke="#000" stroke-width="1.6"/>
<rect x="682.63" y="632.40" width="5" height="5" fill="#f4f4f4" stroke="#000" stroke-width="1.6"/>
<path d="M214.10,548.9 H225.50 L230.70,554.1 V589.0 L225.50,594.2 H214.10 L208.90,589.0 V554.1 Z" fill="#efefef" stroke="#000" stroke-width="1.5"/>
<rect x="217.50" y="557.90" width="5" height="5" fill="#f4f4f4" stroke="#000" stroke-width="1.6"/>
<rect x="217.50" y="580.40" width="5" height="5" fill="#f4f4f4" stroke="#000" stroke-width="1.6"/>
<path d="M235.90,548.9 H247.30 L252.50,554.1 V589.0 L247.30,594.2 H235.90 L230.70,589.0 V554.1 Z" fill="#efefef" stroke="#000" stroke-width="1.5"/>
<rect x="239.30" y="557.90" width="5" height="5" fill="#f4f4f4" stroke="#000" stroke-width="1.6"/>
<rect x="239.30" y="580.40" width="5" height="5" fill="#f4f4f4" stroke="#000" stroke-width="1.6"/>
<rect x="582" y="925" width="146.9" height="146.7" fill="#000"/>
<rect x="575.9" y="918.9" width="147" height="145.9" fill="#d1cecb" stroke="#000" stroke-width="2"/>
<circle cx="588.6" cy="930.7" r="5.3" fill="#efefef" stroke="#000" stroke-width="1.6"/>
<circle cx="710.0" cy="930.7" r="5.3" fill="#efefef" stroke="#000" stroke-width="1.6"/>
<circle cx="588.6" cy="954.9" r="5.3" fill="#efefef" stroke="#000" stroke-width="1.6"/>
<circle cx="710.0" cy="954.9" r="5.3" fill="#efefef" stroke="#000" stroke-width="1.6"/>
<circle cx="588.6" cy="979.0" r="5.3" fill="#efefef" stroke="#000" stroke-width="1.6"/>
<circle cx="710.0" cy="979.0" r="5.3" fill="#efefef" stroke="#000" stroke-width="1.6"/>
<circle cx="588.6" cy="1003.2" r="5.3" fill="#efefef" stroke="#000" stroke-width="1.6"/>
<circle cx="710.0" cy="1003.2" r="5.3" fill="#efefef" stroke="#000" stroke-width="1.6"/>
<circle cx="588.6" cy="1027.4" r="5.3" fill="#efefef" stroke="#000" stroke-width="1.6"/>
<circle cx="710.0" cy="1027.4" r="5.3" fill="#efefef" stroke="#000" stroke-width="1.6"/>
<circle cx="588.6" cy="1051.6" r="5.3" fill="#efefef" stroke="#000" stroke-width="1.6"/>
<circle cx="710.0" cy="1051.6" r="5.3" fill="#efefef" stroke="#000" stroke-width="1.6"/>
<rect x="606.9" y="923.9" width="32.60000000000002" height="17.399999999999977" fill="#efefef" stroke="#000" stroke-width="1.6"/>
<path d="M611.9,923.9 V941.3 M634.5,923.9 V941.3" stroke="#000" stroke-width="1.5"/>
<rect x="606.9" y="945.2" width="32.60000000000002" height="17.399999999999977" fill="#efefef" stroke="#000" stroke-width="1.6"/>
<path d="M611.9,945.2 V962.6 M634.5,945.2 V962.6" stroke="#000" stroke-width="1.5"/>
<rect x="650.3" y="925.3" width="4.3" height="28" fill="#d1cecb" stroke="#000" stroke-width="1.3"/>
<rect x="646.4" y="930.4" width="12.3" height="17.4" fill="#a8a29e" stroke="#000" stroke-width="1.5"/>
<circle cx="664.2" cy="954" r="2.4" fill="none" stroke="#000" stroke-width="1.2"/>
<rect x="661.6" y="921.7" width="31.9" height="30.9" fill="#a8a29e" stroke="#000" stroke-width="1.6"/>
<rect x="674" y="955.8" width="16.600000000000023" height="10.5" fill="#efefef" stroke="#000" stroke-width="1.5"/>
<rect x="678" y="955.8" width="8.600000000000023" height="10.5" fill="#000"/>
<rect x="673.7" y="969.9" width="17.699999999999932" height="9.899999999999977" fill="#efefef" stroke="#000" stroke-width="1.5"/>
<path d="M677.2,969.9 V979.8 M687.9,969.9 V979.8" stroke="#000" stroke-width="1.3"/>
<rect x="603.5" y="969.3" width="10.200000000000045" height="17.700000000000045" fill="#efefef" stroke="#000" stroke-width="1.5"/>
<path d="M603.5,972.8 H613.7 M603.5,983.5 H613.7" stroke="#000" stroke-width="1.3"/>
<rect x="607.9" y="992.8" width="17.100000000000023" height="11.200000000000045" fill="#efefef" stroke="#000" stroke-width="1.5"/>
<rect x="611.9" y="992.8" width="9.100000000000023" height="11.200000000000045" fill="#000"/>
<rect x="606.2" y="1008.4" width="18.699999999999932" height="10.800000000000068" fill="#efefef" stroke="#000" stroke-width="1.5"/>
<rect x="610.2" y="1008.4" width="10.699999999999932" height="10.800000000000068" fill="#000"/>
<rect x="636.5" y="986.3" width="39.9" height="39.2" fill="#a8a29e" stroke="#000" stroke-width="1.6"/>
<circle cx="635.5" cy="1034.6" r="2.6" fill="#efefef" stroke="#000" stroke-width="1.2"/>
<circle cx="609.1" cy="1053.8" r="2.6" fill="#efefef" stroke="#000" stroke-width="1.2"/>
<rect x="657.3" y="1037.8" width="9.700000000000045" height="17.700000000000045" fill="#efefef" stroke="#000" stroke-width="1.5"/>
<path d="M657.3,1041.3 H667 M657.3,1052.0 H667" stroke="#000" stroke-width="1.3"/>
<rect x="671.8" y="1037.8" width="9.800000000000068" height="17.700000000000045" fill="#efefef" stroke="#000" stroke-width="1.5"/>
<path d="M671.8,1041.3 H681.6 M671.8,1052.0 H681.6" stroke="#000" stroke-width="1.3"/>
<rect x="686.7" y="1037.8" width="10.0" height="17.700000000000045" fill="#efefef" stroke="#000" stroke-width="1.5"/>
<path d="M686.7,1041.3 H696.7 M686.7,1052.0 H696.7" stroke="#000" stroke-width="1.3"/>
<path d="M1103.2,600 V673.7 L1113.1,683.6 H1172.8 V600 Z" fill="#000"/>
<rect x="1078" y="599" width="48.5" height="70" fill="#000"/>
<path d="M1262,599 H1327 V669 H1262 Z" fill="#000"/>
<path d="M1326,610 H1336 L1341,616 V652 L1336,658 H1326 Z" fill="#000"/>
<rect x="1180.4" y="584.5" width="8" height="98.79999999999995" fill="#000"/>
<rect x="1195.4" y="586.5" width="8" height="94.79999999999995" fill="#000"/>
<rect x="1210" y="588.5" width="8" height="90.70000000000005" fill="#000"/>
<rect x="1224.4" y="590.5" width="8" height="86.60000000000002" fill="#000"/>
<rect x="1239.4" y="592.5" width="8" height="82.5" fill="#000"/>
<rect x="1254" y="594.6" width="8" height="78.19999999999993" fill="#000"/>
<path d="M1168.6,581 L1257,596 V664 L1168.6,674 Z" fill="#595959" stroke="#000" stroke-width="1.6"/>
<rect x="1175.4" y="578.5" width="8" height="98.79999999999995" fill="#595959" stroke="#000" stroke-width="1.6"/>
<rect x="1190.4" y="580.5" width="8" height="94.79999999999995" fill="#595959" stroke="#000" stroke-width="1.6"/>
<rect x="1205" y="582.5" width="8" height="90.70000000000005" fill="#595959" stroke="#000" stroke-width="1.6"/>
<rect x="1219.4" y="584.5" width="8" height="86.60000000000002" fill="#595959" stroke="#000" stroke-width="1.6"/>
<rect x="1234.4" y="586.5" width="8" height="82.5" fill="#595959" stroke="#000" stroke-width="1.6"/>
<rect x="1249" y="588.6" width="8" height="78.19999999999993" fill="#595959" stroke="#000" stroke-width="1.6"/>
<path d="M1107,577.8 H1168.6 V677 H1107.5 Q1104.1,677 1104.1,673.6 V581.2 Z" fill="#595959" stroke="#000" stroke-width="1.9"/>
<rect x="1257" y="593.2" width="64.2" height="69" fill="#595959" stroke="#000" stroke-width="1.8"/>
<rect x="1321.5" y="604.4" width="7.9" height="47.3" fill="#efefef" stroke="#000" stroke-width="1.5"/>
<path d="M1329.4,604.4 L1335.3,610.5 V646.5 L1329.4,651.7 Z" fill="#efefef" stroke="#000" stroke-width="1.5"/>
<rect x="1075" y="593.2" width="47.7" height="70.1" fill="#e0dfdd" stroke="#000" stroke-width="1.9"/>
<path d="M1084,593.2 V663.3" stroke="#000" stroke-width="1.8"/>
<circle cx="1102" cy="612.4" r="11.4" fill="none" stroke="#000" stroke-width="1.8"/>
<circle cx="1102" cy="645.3" r="11.4" fill="none" stroke="#000" stroke-width="1.8"/>
<path d="M1129.8,612.1 H1137.8 M1133.8,608.1 V616.1 M1129.2,647.4 H1137.2" stroke="#000" stroke-width="1.6"/>
<rect x="1080.2" y="934.8" width="128" height="171.8" fill="#000"/>
<rect x="1209.8" y="934.8" width="151" height="171.8" fill="#000"/>
<rect x="1360" y="997" width="18" height="46" fill="#000"/>
<rect x="1377" y="1006.7" width="63" height="28" rx="2" fill="#000"/>
<rect x="1056.2" y="950" width="18" height="10.6" fill="#000"/>
<rect x="1056.2" y="1078" width="18" height="10.6" fill="#000"/>
<rect x="1049.6" y="945.5" width="23.8" height="9.8" fill="#efefef" stroke="#000" stroke-width="1.8"/>
<path d="M1068.8,945.5 V955.4" stroke="#000" stroke-width="1.3"/>
<rect x="1049.6" y="1073.5" width="23.8" height="9.8" fill="#efefef" stroke="#000" stroke-width="1.8"/>
<path d="M1068.8,1073.5 V1083.4" stroke="#000" stroke-width="1.3"/>
<path d="M1074,992.7 H1064.4 L1061.6,995.5 V1033 L1064.4,1035.8 H1074 Z" fill="#b8b8b8" stroke="#000" stroke-width="1.6"/>
<rect x="1065.4" y="993.5" width="8.2" height="41.5" fill="#efefef"/>
<path d="M1065,992.7 V1035.8" stroke="#000" stroke-width="1.7"/>
<path d="M1074,928.9 H1194.6 Q1200.8,928.9 1200.8,935.1 V1094.1 Q1200.8,1100.3 1194.6,1100.3 H1074 Z" fill="#efefef" stroke="#000" stroke-width="1.7"/>
<path d="M1193.8,928.9 V1100.3" stroke="#000" stroke-width="1.6"/>
<rect x="1200.8" y="931" width="3.2" height="168" fill="#efefef"/>
<path d="M1205.2,928.9 H1351.9 L1355.1,932.1 V1097.1 L1351.9,1100.3 H1205.2 L1204,1099.1 V930.1 Z" fill="#efefef" stroke="#000" stroke-width="1.7"/>
<path d="M1236.4,928.9 V1100.3 M1319.7,928.9 V1100.3 M1351.2,931 V1098" stroke="#000" stroke-width="1.5"/>
<rect x="1355.1" y="991.2" width="16.6" height="46.2" fill="#595959" stroke="#000" stroke-width="1.4"/>
<path d="M1369.3,991.2 V1037.4" stroke="#000" stroke-width="1"/>
<rect x="1371.7" y="1000.7" width="62.5" height="28" rx="1.5" fill="#efefef" stroke="#000" stroke-width="1.5"/>
<path d="M641.5,634.9 V723.4 H433.4 V954.9 H588.6" fill="none" stroke="#000" stroke-width="4.9" stroke-linejoin="miter" stroke-linecap="butt"/>
<path d="M315.5,634.9 V1003.2 H588.6" fill="none" stroke="#0000cc" stroke-width="4.9" stroke-linejoin="miter" stroke-linecap="butt"/>
<path d="M358.6,634.9 V979.0 H588.6" fill="none" stroke="#ffb800" stroke-width="4.9" stroke-linejoin="miter" stroke-linecap="butt"/>
<path d="M684.6,609.5 V748.4 H458.3 V1051.6 H588.6" fill="none" stroke="#ff0000" stroke-width="4.9" stroke-linejoin="miter" stroke-linecap="butt"/>
<path d="M710,930.7 H925.5 V617.5 H1075" fill="none" stroke="#ff0000" stroke-width="4.9" stroke-linejoin="miter" stroke-linecap="butt"/>
<path d="M710,954.9 H950.5 V641.5 H1075" fill="none" stroke="#000" stroke-width="4.9" stroke-linejoin="miter" stroke-linecap="butt"/>
<path d="M710,979.0 H971.6 V951.2 H1049.4" fill="none" stroke="#8d3ffc" stroke-width="4.9" stroke-linejoin="miter" stroke-linecap="butt"/>
<path d="M710,1003.2 H971.6 V1078.3 H1049.4" fill="none" stroke="#00cc6a" stroke-width="4.9" stroke-linejoin="miter" stroke-linecap="butt"/>
<circle cx="588.6" cy="954.9" r="2.45" fill="#000"/>
<circle cx="588.6" cy="979.0" r="2.45" fill="#ffb800"/>
<circle cx="588.6" cy="1003.2" r="2.45" fill="#0000cc"/>
<circle cx="588.6" cy="1051.6" r="2.45" fill="#ff0000"/>
<circle cx="710" cy="930.7" r="2.45" fill="#ff0000"/>
<circle cx="710" cy="954.9" r="2.45" fill="#000"/>
<circle cx="710" cy="979.0" r="2.45" fill="#8d3ffc"/>
<circle cx="710" cy="1003.2" r="2.45" fill="#00cc6a"/>
<circle cx="641.5" cy="634.9" r="3.2" fill="#000"/>
<rect x="497.8" y="950.9" width="43.30000000000001" height="8" fill="#fff"/>
<text x="501.12" y="960.00" class="wl" fill="#000" textLength="35.64" lengthAdjust="spacingAndGlyphs">GND</text>
<rect x="494.4" y="975.0" width="48.5" height="8" fill="#fff"/>
<text x="496.78" y="984.30" class="wl" fill="#ff9d00" textLength="42.44" lengthAdjust="spacingAndGlyphs">PWM</text>
<rect x="500.0" y="999.2" width="37.10000000000002" height="8" fill="#fff"/>
<text x="504.70" y="1007.70" class="wl" fill="#0000cc" textLength="28.52" lengthAdjust="spacingAndGlyphs">DIR</text>
<rect x="495.8" y="1047.6" width="46.19999999999999" height="8" fill="#fff"/>
<text x="498.66" y="1056.30" class="wl" fill="#ff0000" textLength="38.30" lengthAdjust="spacingAndGlyphs">3.3V</text>
<rect x="817.8" y="926.7" width="39.30000000000007" height="8" fill="#fff"/>
<text x="820.82" y="935.00" class="wl" fill="#ff0000" textLength="30.18" lengthAdjust="spacingAndGlyphs">12V</text>
<rect x="816.0" y="950.9" width="42.5" height="8" fill="#fff"/>
<text x="819.12" y="959.70" class="wl" fill="#000" textLength="35.22" lengthAdjust="spacingAndGlyphs">GND</text>
<rect x="809.9" y="975.0" width="53.89999999999998" height="8" fill="#fff"/>
<text x="812.70" y="983.70" class="wl" fill="#8d3ffc" textLength="46.64" lengthAdjust="spacingAndGlyphs">OUT 1</text>
<rect x="808.8" y="999.2" width="56.60000000000002" height="8" fill="#fff"/>
<text x="812.12" y="1007.70" class="wl" fill="#00cc6a" textLength="49.18" lengthAdjust="spacingAndGlyphs">OUT 2</text>
<path d="M286.8,558 L315.5,634.9 M330.7,558 L358.6,634.9" stroke="#000" stroke-width="1.5"/>
<circle cx="315.5" cy="634.9" r="4.6" fill="#000"/><circle cx="358.6" cy="634.9" r="4.6" fill="#000"/>
<circle cx="286.8" cy="558" r="13.9" fill="#0000cc" stroke="#000" stroke-width="1.7"/>
<circle cx="330.7" cy="558" r="13.9" fill="#fbbd00" stroke="#000" stroke-width="1.7"/>
<text x="277.2" y="562.8" class="bd" fill="#fff" textLength="17.6" lengthAdjust="spacingAndGlyphs">36</text>
<text x="322.3" y="562.8" class="bd" fill="#000" textLength="16.2" lengthAdjust="spacingAndGlyphs">32</text>
</svg>
</body></html>
